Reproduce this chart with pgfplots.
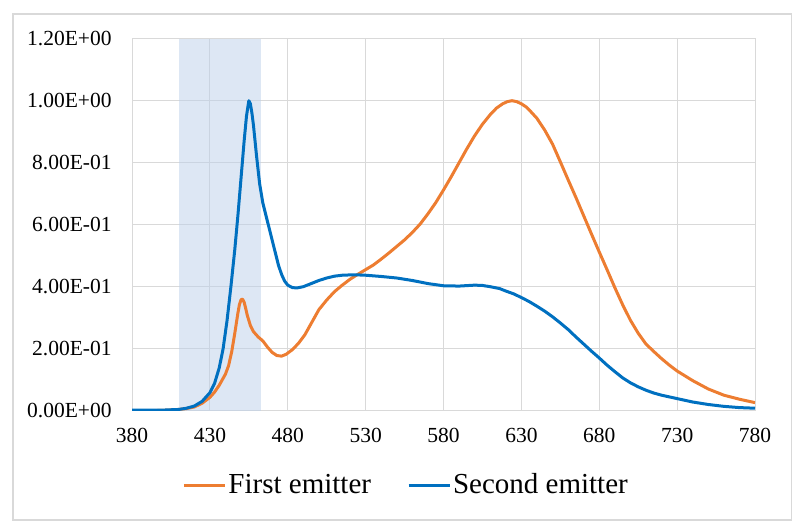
\documentclass[border=0pt]{standalone}
\usepackage{fontspec}
\setmainfont{Liberation Serif}
\usepackage{pgfplots}
\pgfplotsset{compat=1.18}
\definecolor{excelorange}{RGB}{237,125,49}
\definecolor{excelblue}{RGB}{0,112,192}
\definecolor{gridgray}{RGB}{217,217,217}
\definecolor{bandblue}{RGB}{188,208,234}

\begin{document}
\begin{tikzpicture}[x=0.5pt,y=0.5pt]
% page = 793 x 529 px, 1 px = 0.5pt
\path (0,0) rectangle (793,529);
\draw[gridgray, line width=0.75pt] (13,9) rectangle (791.5,515);
\begin{axis}[
  at={(66pt,59.15pt)}, anchor=south west,
  scale only axis, width=311.5pt, height=186pt,
  xmin=380, xmax=780, ymin=0, ymax=1.2,
  xtick={380,430,...,780},
  ytick={0,0.2,0.4,0.6,0.8,1.0,1.2},
  yticklabels={0.00E+00,2.00E-01,4.00E-01,6.00E-01,8.00E-01,1.00E+00,1.20E+00},
  /pgf/number format/assume math mode=true,
  major tick length=0pt,
  grid=major,
  major grid style={gridgray, line width=0.5pt},
  axis line style={gridgray, line width=0.5pt},
  tick label style={font=\fontsize{10.75}{12}\selectfont, inner sep=0pt},
  yticklabel style={anchor=east, xshift=-10pt},
  xticklabel style={anchor=north, yshift=-8.6pt},
  legend columns=2,
  legend style={at={(0.44,-0.2)}, anchor=center, draw=none, fill=none,
    font=\fontsize{14.5}{17}\selectfont,
    /tikz/every even column/.append style={column sep=17pt},
    nodes={inner sep=1pt}},
  legend cell align=left,
  legend image code/.code={\draw[#1] (0pt,0pt) -- (20.5pt,0pt);},
]
% highlighted band
\addplot[draw=none, fill=bandblue, fill opacity=0.5, forget plot]
  coordinates {(410,0) (410,1.2) (463,1.2) (463,0)} -- cycle;

% first emitter
\addplot[excelorange, line width=1.5pt, line join=round] coordinates {
(380,0) (390,0.0) (400,0.001) (410,0.004) (415,0.007) (420,0.012) (425,0.024)
(430,0.043) (433,0.06) (436,0.082) (438,0.1) (440,0.118) (442,0.145)
(444,0.19) (446,0.25) (448,0.315) (449,0.343) (450,0.358) (451,0.36)
(452,0.35) (453,0.33) (454,0.308) (456,0.275) (458,0.255) (461,0.238)
(464,0.225) (467,0.205) (470,0.188) (473,0.178) (476,0.176) (479,0.182)
(483,0.197) (487,0.218) (491,0.245) (496,0.29) (500,0.326) (505,0.357)
(510,0.384) (515,0.405) (520,0.424) (525,0.44) (530,0.455) (535,0.47)
(540,0.489) (545,0.509) (550,0.53) (555,0.551) (560,0.575) (565,0.602)
(570,0.635) (575,0.671) (580,0.712) (585,0.755) (590,0.80) (595,0.845)
(600,0.887) (605,0.924) (610,0.955) (614,0.976) (618,0.99) (621,0.997)
(624,1.0) (627,0.997) (630,0.99) (633,0.98) (636,0.965) (640,0.943)
(645,0.905) (650,0.86) (655,0.803) (660,0.745) (665,0.688) (670,0.629)
(675,0.57) (680,0.512) (685,0.455) (690,0.397) (695,0.342) (700,0.292)
(705,0.25) (710,0.215) (715,0.191) (720,0.168) (725,0.147) (730,0.128)
(740,0.097) (750,0.07) (760,0.05) (770,0.037) (780,0.026)
};
\addlegendentry{First emitter}

% second emitter
\addplot[excelblue, line width=1.5pt, line join=round] coordinates {
(380,0.002) (390,0.002) (400,0.002) (410,0.004) (415,0.008) (420,0.015)
(425,0.03) (430,0.058) (433,0.088) (436,0.138) (438.5,0.2) (441,0.29)
(443.5,0.4) (446,0.52) (448,0.63) (450,0.75) (452,0.87) (453.5,0.95)
(455,1.0) (456,0.99) (457,0.96) (458,0.92) (460,0.82) (462,0.73)
(464,0.67) (466,0.63) (468,0.59) (470,0.55) (472,0.51) (474,0.47)
(476,0.44) (478,0.418) (480,0.405) (483,0.397) (486,0.396) (490,0.40)
(495,0.41) (500,0.42) (505,0.428) (510,0.434) (515,0.437) (520,0.438)
(525,0.438) (530,0.437) (540,0.433) (550,0.428) (560,0.42) (570,0.41)
(580,0.403) (590,0.402) (600,0.405) (605,0.404) (610,0.40) (616,0.394)
(620,0.386) (625,0.377) (630,0.365) (635,0.352) (640,0.337) (645,0.321)
(650,0.303) (655,0.283) (660,0.262) (665,0.238) (670,0.215) (675,0.192)
(680,0.17) (685,0.147) (690,0.126) (695,0.106) (700,0.09) (705,0.077)
(710,0.066) (715,0.057) (720,0.05) (730,0.039) (740,0.028) (750,0.02)
(760,0.014) (770,0.01) (780,0.008)
};
\addlegendentry{Second emitter}
\end{axis}
\end{tikzpicture}
\end{document}
